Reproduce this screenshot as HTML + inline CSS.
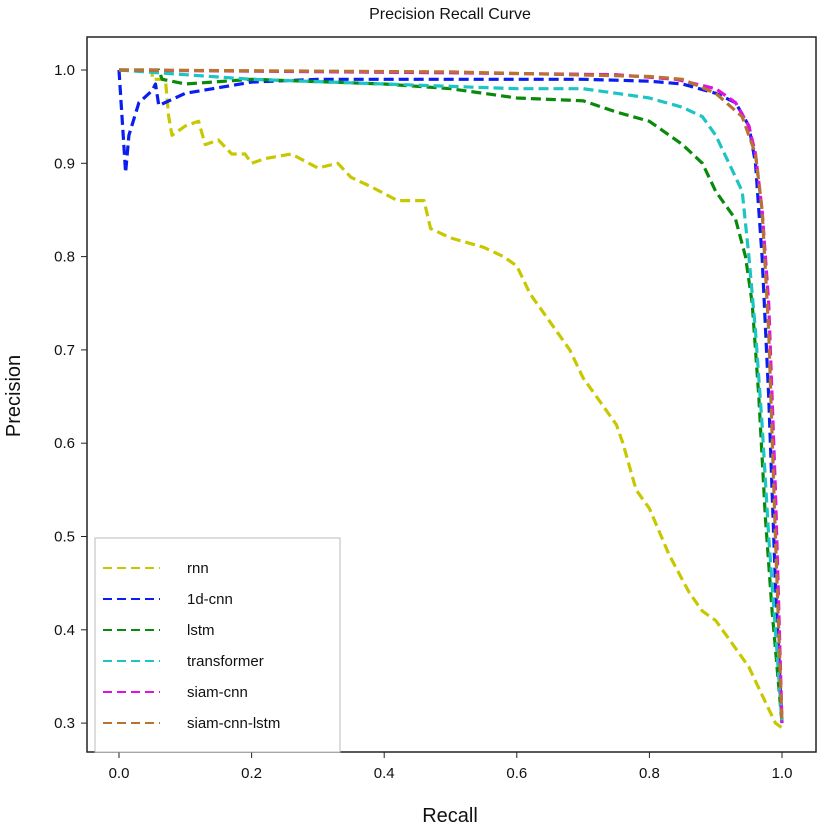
<!DOCTYPE html>
<html><head><meta charset="utf-8"><style>
body{margin:0;background:#fff;}
svg text{font-family:"Liberation Sans",sans-serif;fill:#111;}
</style></head><body>
<svg width="818" height="834">
<rect x="0" y="0" width="818" height="834" fill="#fff"/>
<text x="450" y="19" font-size="16" text-anchor="middle">Precision Recall Curve</text>
<rect x="87" y="37" width="729" height="715" fill="none" stroke="#222" stroke-width="1.5"/>
<g id="axes"></g>
<g id="series"></g>
<text x="450" y="822" font-size="20" text-anchor="middle">Recall</text>
<text x="20" y="396" font-size="20" text-anchor="middle" transform="rotate(-90 20 396)">Precision</text>
<g id="legend"></g>
</svg>
<script>
const xTicks=[0,0.2,0.4,0.6,0.8,1.0];
const yTicks=[0.3,0.4,0.5,0.6,0.7,0.8,0.9,1.0];
const names=["rnn","1d-cnn","lstm","transformer","siam-cnn","siam-cnn-lstm"];
const colors=["#c8c800","#0a1ef0","#0a8a0a","#1cc4c4","#e010e0","#b87333"];
const rnnR=[0,0.05,0.05,0.07,0.075,0.08,0.1,0.12,0.13,0.15,0.17,0.19,0.2,0.22,0.26,0.3,0.33,0.35,0.38,0.42,0.46,0.47,0.5,0.55,0.58,0.6,0.62,0.65,0.68,0.7,0.72,0.75,0.76,0.78,0.8,0.83,0.86,0.88,0.9,0.92,0.95,0.97,0.99,1.0];
const rnnP=[1,1,0.99,0.99,0.95,0.93,0.94,0.945,0.92,0.925,0.91,0.91,0.9,0.905,0.91,0.895,0.9,0.885,0.875,0.86,0.86,0.83,0.82,0.81,0.8,0.79,0.76,0.73,0.7,0.67,0.65,0.62,0.6,0.55,0.53,0.48,0.44,0.42,0.41,0.39,0.36,0.33,0.3,0.295];
const cnnR=[0,0.01,0.015,0.03,0.05,0.055,0.06,0.1,0.2,0.3,0.5,0.7,0.8,0.85,0.9,0.93,0.95,0.96,0.97,0.98,0.99,1.0];
const cnnP=[1,0.89,0.93,0.965,0.978,0.985,0.962,0.975,0.987,0.99,0.99,0.99,0.988,0.985,0.975,0.965,0.94,0.9,0.8,0.65,0.45,0.3];
const lstmR=[0,0.06,0.065,0.1,0.2,0.4,0.5,0.6,0.7,0.75,0.8,0.85,0.88,0.9,0.92,0.93,0.945,0.955,0.965,0.975,0.985,1.0];
const lstmP=[1,1,0.99,0.985,0.99,0.985,0.98,0.97,0.967,0.955,0.945,0.92,0.9,0.87,0.85,0.84,0.8,0.75,0.65,0.52,0.42,0.3];
const trR=[0,0.1,0.2,0.4,0.6,0.7,0.75,0.8,0.85,0.88,0.9,0.92,0.94,0.95,0.96,0.97,0.98,0.99,1.0];
const trP=[1,0.995,0.99,0.985,0.98,0.98,0.975,0.97,0.96,0.95,0.93,0.9,0.87,0.8,0.72,0.62,0.5,0.4,0.3];
const scR=[0,0.5,0.75,0.84,0.9,0.93,0.95,0.96,0.97,0.98,0.99,1.0];
const scP=[1,0.997,0.995,0.99,0.98,0.965,0.94,0.91,0.85,0.75,0.55,0.3];
const sclR=[0,0.5,0.8,0.85,0.9,0.94,0.96,0.97,0.98,0.99,1.0];
const sclP=[1,0.998,0.993,0.99,0.975,0.95,0.91,0.85,0.72,0.5,0.3];
const seriesR=[rnnR,cnnR,lstmR,trR,scR,sclR];
const seriesP=[rnnP,cnnP,lstmP,trP,scP,sclP];

const NS="http://www.w3.org/2000/svg";
const xs=v=>119+v*663;
const ys=v=>70+(1-v)*933;
function mk(t,a,p){const e=document.createElementNS(NS,t);for(const k in a)e.setAttribute(k,a[k]);p.appendChild(e);return e;}
const axes=document.getElementById('axes');
xTicks.forEach(v=>{
  const l=mk('line',{x1:xs(v),x2:xs(v),y1:752,y2:758,stroke:'#222'},axes);
  
  
  const t=mk('text',{x:xs(v),y:778,'font-size':15,'text-anchor':'middle'},axes);
  t.textContent=v.toFixed(1);
  
  
});
yTicks.forEach(v=>{
  const l=mk('line',{x1:81,x2:87,y1:ys(v),y2:ys(v),stroke:'#222'},axes);
  
  
  const t=mk('text',{x:75,y:ys(v)+5,'font-size':15,'text-anchor':'end'},axes);
  t.textContent=v.toFixed(1);
  
  
});
const sg=document.getElementById('series');
seriesR.forEach((R,i)=>{
  const pts=R.map((r,j)=>xs(r).toFixed(1)+','+ys(seriesP[i][j]).toFixed(1)).join(' ');
  const pl=mk('polyline',{points:pts,fill:'none',stroke:colors[i],'stroke-width':3.2,'stroke-dasharray':'10,5','stroke-linejoin':'round'},sg);
  
  
});
const lg=document.getElementById('legend');
const box=mk('rect',{x:95,y:538,width:245,height:214,fill:'#fff',stroke:'#bbb'},lg);


names.forEach((n,i)=>{
  const y=568+i*31;
  const l=mk('line',{x1:103,x2:160,y1:y,y2:y,stroke:colors[i],'stroke-width':2,'stroke-dasharray':'9,5'},lg);
  
  
  const t=mk('text',{x:187,y:y+5,'font-size':15},lg);
  t.textContent=n;
  
  
});
</script>
</body></html>
